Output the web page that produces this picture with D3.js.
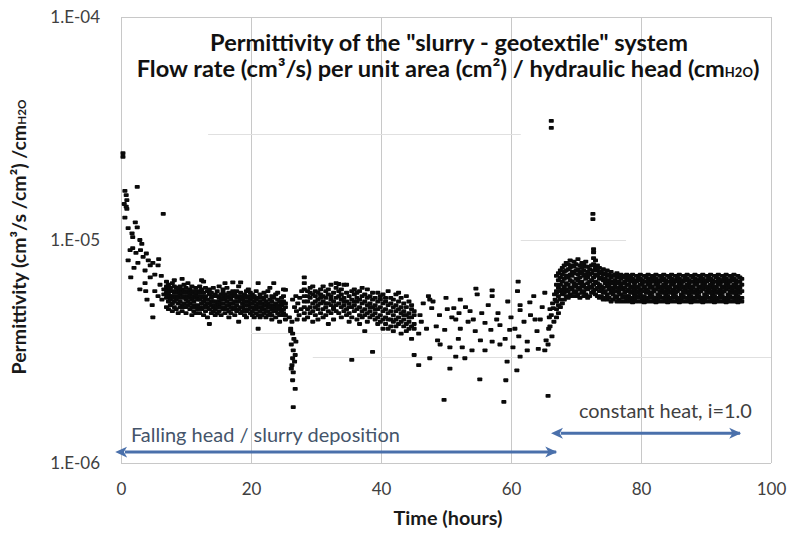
<!DOCTYPE html>
<html><head><meta charset="utf-8">
<script src="https://cdn.jsdelivr.net/npm/d3@7"></script>
<style>body{margin:0;background:#fff}svg{display:block}</style>
</head><body><svg id="c" width="794" height="535"></svg>
<script>
// ---- tick values / labels ----
const xTicks = [0, 20, 40, 60, 80, 100];
const yTicks = [1e-4, 1e-5, 1e-6];
const yTickLabels = ["1.E-04", "1.E-05", "1.E-06"];

// faint horizontal reference lines seen in the figure: [permittivity, from hour, to hour]
const refLines = [[1e-4, 0, 100], [1e-6, 0, 100], [3e-5, 13.4, 61.5], [1e-5, 61.5, 77.7], [3.83e-6, 20, 43], [3e-6, 29.5, 100]];

// ---- data: [hours, permittivity x 1e-6 (cm3/s/cm2/cmH2O)] ----
const earlyPts = [[0.3,24.5],[0.3,23.6],[0.6,16.6],[0.8,15.9],[0.9,15.1],[0.5,14.5],[0.8,14.1],[0.9,13.8],[0.6,12.6],
 [2.5,17.3],[6.5,13.1],[2.2,12.0],[2.5,11.4],[1.1,11.3],[1.7,10.7],[1.8,10.3],[2.9,10.0],[3.2,9.6],[1.8,9.2],[1.4,9.0],
 [2.3,8.75],[3.4,8.4],[4.2,8.1],[4.9,7.9],[5.8,8.2],[1.1,8.1],[2.6,7.9],[4.5,7.7],[5.7,7.7],[3.7,7.3],[1.5,6.8],[5.2,7.0],
 [4.5,6.8],[3.7,6.4],[6.0,6.3],[2.9,6.0],[3.8,5.9],[5.2,5.9],[5.7,5.6],[4.0,5.4],[4.8,5.1],[4.9,4.5],[6.3,5.4],[6.6,6.0],
 [3.0,9.0],[3.9,8.7],[2.0,7.5],[6.2,6.9],[6.6,5.7]];

const cloudCols = [
 [7.0,[5.5,6.2,5.0,5.8,6.5]],[7.3,[5.7,6.0,5.3,4.9,6.3]],[7.6,[6.1,5.4,5.9,5.1,5.6]],[7.9,[5.6,6.4,5.2,4.8,5.9]],
 [8.2,[5.8,5.3,6.2,5.0,5.5,6.6]],[8.5,[5.4,5.9,6.1,4.9,5.6]],[8.8,[6.0,5.5,5.2,5.8,4.7]],[9.1,[5.7,5.3,6.2,5.0,5.9]],
 [9.4,[5.5,6.0,5.1,5.8,6.7,4.8]],[9.7,[5.9,5.2,5.6,6.3,5.0]],[10.0,[5.4,5.8,5.0,6.1,4.7]],[10.3,[5.6,5.1,5.9,5.3,6.4]],
 [10.6,[5.2,5.7,4.9,6.0,5.5]],[10.9,[5.8,5.4,5.0,6.2,4.6]],[11.2,[5.3,5.9,5.1,5.6,4.8]],[11.5,[5.5,6.1,5.0,5.7,4.7]],
 [11.8,[5.1,5.6,5.9,4.9,5.4]],[12.1,[5.4,5.0,5.8,6.2,4.7]],[12.4,[5.6,5.2,6.0,4.9,6.6]],[12.7,[5.3,5.8,5.0,5.5,6.5,4.6]],
 [13.0,[5.1,5.6,6.1,4.8,5.4]],[13.3,[5.4,5.0,5.9,5.2,4.5]],[13.6,[5.2,5.7,4.9,6.0,4.2]],[13.9,[5.5,5.1,5.8,4.7,5.3]],
 [14.2,[5.0,5.6,5.3,6.1,4.8]],[14.5,[5.3,4.9,5.7,5.1,4.6]],[14.8,[5.6,5.2,5.0,5.9,4.7]],[15.1,[5.1,5.5,4.8,6.2,5.3]],
 [15.4,[5.4,5.0,5.7,4.6,5.2]],[15.7,[5.2,5.8,4.9,5.5,6.0]],[16.0,[5.0,5.4,6.4,4.7,5.7]],[16.3,[5.3,4.9,5.6,5.1,6.1]],
 [16.6,[5.1,5.5,4.8,5.8,4.5]],[16.9,[5.4,5.0,5.7,4.7,5.2]],[17.2,[5.2,5.6,6.45,4.9,5.9]],[17.5,[4.9,5.3,5.0,5.7,4.6]],
 [17.8,[5.1,5.5,4.8,5.9,5.3]],[18.1,[5.3,4.9,5.6,6.2,4.3]],[18.4,[5.0,5.4,6.45,4.7,5.8]],[18.7,[5.2,4.8,5.6,5.0,5.4]],
 [19.0,[4.9,5.3,5.7,4.6,5.1]],[19.3,[5.1,5.5,4.8,5.9,4.5]],[19.6,[5.3,4.9,5.6,5.1,6.0]],[19.9,[5.0,5.4,4.7,5.8,5.2]],
 [20.2,[5.2,4.8,5.5,4.6,5.7]],[20.5,[4.9,5.3,5.0,5.6,4.5]],[20.8,[5.1,4.7,5.4,5.9,4.9]],[21.1,[5.0,5.5,4.6,5.2,6.4,4.0]],
 [21.4,[4.8,5.3,5.0,5.7,4.5]],[21.7,[5.2,4.9,5.5,4.6,5.0]],[22.0,[4.9,5.4,4.7,5.8,5.1]],[22.3,[5.1,4.8,5.3,4.5,5.6]],
 [22.6,[4.8,5.2,5.0,5.9,4.6]],[22.9,[5.0,4.7,5.4,5.1,6.1]],[23.2,[4.9,5.3,4.6,5.6,4.4]],[23.5,[5.1,4.8,5.5,6.4,5.0]],
 [23.8,[4.8,5.2,4.5,5.7,4.9]],[24.1,[5.0,4.7,5.4,5.1,5.8]],[24.4,[4.9,5.3,4.6,5.0,4.3]],[24.7,[5.1,4.8,5.5,4.6,5.2]],
 [25.0,[4.9,5.3,4.7,5.6,6.0]],[25.3,[5.0,4.6,5.2,4.4,5.97]]];

const dipPts = [[25.9,4.5],[26.3,4.3],[26.1,4.0],[26.1,3.9],[26.4,3.8],[26.6,3.6],[26.9,3.5],[26.2,3.4],[26.5,3.2],
 [26.8,3.05],[26.4,2.95],[26.7,2.85],[26.3,2.75],[26.2,2.65],[26.5,2.55],[26.4,2.35],[26.8,2.15],[26.5,1.78],
 [26.9,5.6],[27.2,5.2],[27.0,4.8],[27.5,5.5],[27.4,4.6],[26.7,5.0],[27.8,5.9],[27.7,4.9],[26.4,5.4],[27.1,4.4]];

const midCols = [
 [28.2,[6.8,6.4,6.0,5.6,5.3,5.0,4.7,4.4]],[28.7,[5.9,5.3,4.9,5.6,4.5]],[29.1,[5.5,6.1,5.0,4.7,5.8]],
 [29.5,[5.2,5.7,4.8,6.2,4.3]],[29.9,[5.6,5.0,5.9,4.6,5.3]],[30.3,[5.4,5.8,4.9,5.1,4.4]],[30.7,[5.7,5.2,6.0,4.7,5.5]],
 [31.1,[5.3,4.9,5.6,6.2,4.5]],[31.5,[5.5,5.0,5.9,4.6,5.2]],[31.9,[5.2,5.7,4.8,6.0,4.2]],[32.3,[5.6,5.1,5.4,4.7,6.3]],
 [32.7,[5.3,4.9,5.8,5.0,4.4]],[33.1,[5.5,5.1,6.1,4.8,6.4]],[33.5,[5.2,5.6,4.7,5.9,6.35]],[33.9,[5.4,5.0,5.7,4.5,6.0]],
 [34.3,[5.1,5.5,4.8,6.3,5.3]],[34.7,[5.3,4.9,5.8,4.6,6.3]],[35.1,[5.0,5.6,4.7,5.2,4.3]],[35.5,[5.4,5.0,5.9,4.5,2.9]],
 [35.9,[5.1,5.7,4.8,5.3,6.0]],[36.3,[5.3,4.9,5.5,4.4,5.8]],[36.7,[5.0,5.4,4.6,5.9,4.2]],[37.1,[5.2,4.8,5.6,6.1,4.5]],
 [37.5,[4.9,5.3,4.6,5.7,3.9]],[37.9,[5.1,4.7,5.5,6.0,4.3]],[38.3,[4.8,5.2,4.5,5.6,5.0]],[38.7,[5.0,4.6,5.4,3.15,5.8]],
 [39.1,[4.7,5.1,4.4,5.5,4.9]],[39.5,[4.9,5.3,4.5,5.8,4.2]],[39.9,[4.6,5.0,5.4,4.3,5.6]],[40.3,[4.8,4.4,5.2,5.7,4.0]],
 [40.7,[4.5,4.9,5.3,4.2,5.5]],[41.1,[4.7,5.1,4.4,5.9,4.0]],[41.5,[4.4,4.8,5.2,4.1,5.5]],[41.9,[4.6,5.0,4.3,5.4,3.9]],
 [42.3,[4.8,4.4,5.1,5.7,4.1]],[42.7,[4.5,4.9,4.2,5.3,5.8]],[43.1,[4.7,4.3,5.0,3.8,5.5]],[43.5,[4.4,4.8,4.1,5.2,4.6]],
 [43.9,[4.6,4.2,5.0,5.6,3.9]],[44.3,[4.3,4.7,4.0,5.3,4.5]],[44.7,[4.5,4.1,4.9,3.6,5.1]],[45.1,[4.2,4.6,4.0,3.05,4.8]]];

const latePts = [[54.6,6.05],[54.8,5.7],[57.1,5.95],[57.1,5.6],[52.2,5.4],[50.2,4.9],[51.2,4.95],[53.7,4.8],[47.8,4.95],
 [50.9,4.5],[53.4,4.3],[56.0,4.25],[58.3,4.15],[59.8,3.95],[61.2,3.7],[62.5,3.5],[48.5,4.1],[49.8,3.95],[52.2,4.0],
 [54.5,3.9],[56.9,3.95],[59.1,3.6],[58.3,3.4],[60.3,3.3],[49.1,3.4],[50.6,3.3],[52.5,3.3],[54.0,3.2],[56.0,3.2],
 [62.5,3.2],[64.2,3.25],[51.5,3.0],[52.9,2.95],[55.2,2.37],[59.2,2.35],[59.4,2.85],[61.4,3.0],[60.9,2.6],[50.6,2.65],
 [49.7,1.92],[58.9,1.88],[65.7,2.0],[61.4,4.85],[62.9,5.25],[61.4,5.1],[63.7,4.4],[61.1,6.5],[61.0,5.9],[64.5,4.4],
 [65.4,3.55],[48.7,3.55],[51.9,3.6],[57.1,3.5],[55.3,3.55],[46.0,4.6],[46.5,5.2],[47.0,4.0],[47.3,5.6],[45.8,3.8],
 [48.0,5.3],[49.0,4.6],[50.0,5.5],[51.5,4.4],[53.0,5.0],[55.5,4.7],[56.5,5.1],[58.0,4.7],[59.5,5.3],[60.0,4.5],
 [62.0,4.3],[63.5,5.6],[64.8,5.0],[65.2,5.8],[64.0,3.9],[47.5,2.95],[45.8,2.75],[47.5,5.4],[46.2,4.3],[52.0,4.7],
 [54.2,4.4],[57.8,4.4],[60.6,4.0],[63.0,4.6]];

const risePts = [[65.2,3.2],[65.7,3.4],[65.8,4.0],[66.2,4.6],[66.5,4.95],[66.8,5.4],[67.0,5.9],[66.6,4.3],[66.3,3.7],
 [65.9,4.5],[66.7,5.7],[66.4,5.2],[66.0,4.9],[66.0,4.1]];

const outlierPts = [[66.2,34.2],[66.2,31.8],[72.6,13.1],[72.6,12.4]];

const constantHeadCols = [
 [67.0,[4.5,4.9,5.3,5.8,6.3,6.9]],[67.3,[4.7,5.1,5.6,6.1,6.6,7.1]],[67.6,[5.0,5.4,5.9,6.3,6.8,7.3]],
 [67.9,[5.2,5.7,6.0,6.5,7.0,7.5]],[68.2,[5.4,5.8,6.2,6.7,7.2,7.7]],[68.5,[5.6,6.0,6.4,6.9,7.3,7.9]],
 [68.8,[5.5,5.9,6.3,6.8,7.4,7.8]],[69.1,[5.7,6.1,6.6,7.0,7.5,8.1]],[69.4,[5.6,6.0,6.5,6.9,7.2,7.7]],
 [69.7,[5.8,6.2,6.4,7.1,7.6,8.0]],[70.0,[5.6,5.9,6.3,6.7,7.3,7.8]],[70.3,[5.7,6.1,6.6,7.0,7.4,8.2]],
 [70.6,[5.5,6.0,6.4,6.8,7.2,7.7]],[70.9,[5.8,6.2,6.5,7.1,7.5,7.9]],[71.2,[5.6,5.9,6.3,6.9,7.3,7.8]],
 [71.5,[5.7,6.1,6.7,7.0,7.6,8.0]],[71.8,[5.5,6.0,6.4,6.8,7.2,7.6]],[72.1,[5.6,6.2,6.5,7.0,7.4]],
 [72.4,[5.8,6.1,6.6,7.1,7.7]],[72.7,[5.9,6.3,6.8,7.3,7.8,8.3,8.8,9.1]],[73.0,[5.7,6.0,6.5,7.0,7.5,8.1]],
 [73.3,[5.6,6.1,6.4,6.9,7.3,7.7]],[73.6,[5.5,5.9,6.3,6.7,7.1,7.5]],[73.9,[5.6,6.0,6.2,6.8,7.2]],
 [74.2,[5.4,5.8,6.1,6.6,7.0,7.4]],[74.5,[5.5,5.9,6.4,6.7,7.1]],[74.8,[5.4,5.7,6.2,6.5,6.9,7.3]],
 [75.1,[5.5,6.0,6.3,6.6,7.0]],[75.4,[5.3,5.8,6.1,6.5,6.8,7.2]],[75.7,[5.4,5.7,6.0,6.4,6.9]],
 [76.0,[5.5,5.9,6.2,6.6,7.0]],[76.3,[5.3,5.6,6.1,6.4,6.8,7.1]],[76.6,[5.4,5.8,6.0,6.5,6.9]],
 [76.9,[5.3,5.7,6.2,6.3,6.7,7.0]],[77.2,[5.5,5.6,6.0,6.4,6.8]],[77.5,[5.3,5.8,6.1,6.5,6.9]],
 [77.8,[5.4,5.6,5.9,6.3,6.7,7.0]],[78.1,[5.3,5.6,6.0,6.3,6.6,6.9]],[78.4,[5.4,5.8,6.1,6.5,6.8]],
 [78.7,[5.25,5.5,5.9,6.2,6.7,7.0]],[79.0,[5.4,5.7,6.0,6.4,6.6]],[79.3,[5.3,5.6,5.8,6.2,6.5,6.9]],
 [79.6,[5.5,5.9,6.1,6.6,6.8]],[79.9,[5.3,5.7,6.0,6.3,6.7,7.0]],[80.2,[5.4,5.5,5.9,6.4,6.6]],
 [80.5,[5.25,5.6,6.1,6.2,6.5,6.9]],[80.8,[5.4,5.8,6.0,6.5,6.8]],[81.1,[5.3,5.5,5.9,6.3,6.6,7.0]],
 [81.4,[5.5,5.7,6.1,6.4,6.7]],[81.7,[5.3,5.6,5.8,6.2,6.6,6.9]],[82.0,[5.4,5.9,6.0,6.5,6.8]],
 [82.3,[5.25,5.5,6.0,6.3,6.7,7.0]],[82.6,[5.4,5.7,6.1,6.4,6.6]],[82.9,[5.3,5.6,5.9,6.2,6.5,6.9]],
 [83.2,[5.5,5.8,6.0,6.6,6.8]],[83.5,[5.3,5.5,6.1,6.3,6.7,7.0]],[83.8,[5.4,5.7,5.9,6.4,6.6]],
 [84.1,[5.25,5.6,6.0,6.2,6.5,6.9]],[84.4,[5.4,5.8,6.1,6.5,6.8]],[84.7,[5.3,5.5,5.9,6.3,6.7,7.0]],
 [85.0,[5.5,5.7,6.0,6.4,6.6]],[85.3,[5.3,5.6,5.8,6.2,6.6,6.9]],[85.6,[5.4,5.9,6.1,6.5,6.8]],
 [85.9,[5.25,5.5,6.0,6.3,6.7,7.0]],[86.2,[5.4,5.7,6.1,6.4,6.6]],[86.5,[5.3,5.6,5.9,6.2,6.5,6.9]],
 [86.8,[5.5,5.8,6.0,6.6,6.8]],[87.1,[5.3,5.5,6.1,6.3,6.7,7.0]],[87.4,[5.4,5.7,5.9,6.4,6.6]],
 [87.7,[5.25,5.6,6.0,6.2,6.5,6.9]],[88.0,[5.4,5.8,6.1,6.5,6.8]],[88.3,[5.3,5.5,5.9,6.3,6.7,7.0]],
 [88.6,[5.5,5.7,6.0,6.4,6.6]],[88.9,[5.3,5.6,5.8,6.2,6.6,6.9]],[89.2,[5.4,5.9,6.1,6.5,6.8]],
 [89.5,[5.25,5.5,6.0,6.3,6.7,7.0]],[89.8,[5.4,5.7,6.1,6.4,6.6]],[90.1,[5.3,5.6,5.9,6.2,6.5,6.9]],
 [90.4,[5.5,5.8,6.0,6.6,6.8]],[90.7,[5.3,5.5,6.1,6.3,6.7,7.0]],[91.0,[5.4,5.7,5.9,6.4,6.6]],
 [91.3,[5.25,5.6,6.0,6.2,6.5,6.9]],[91.6,[5.4,5.8,6.1,6.5,6.8]],[91.9,[5.3,5.5,5.9,6.3,6.7,7.0]],
 [92.2,[5.5,5.7,6.0,6.4,6.6]],[92.5,[5.3,5.6,5.8,6.2,6.6,6.9]],[92.8,[5.4,5.9,6.1,6.5,6.8]],
 [93.1,[5.25,5.5,6.0,6.3,6.7,7.0]],[93.4,[5.4,5.7,6.1,6.4,6.6]],[93.7,[5.3,5.6,5.9,6.2,6.5,6.9]],
 [94.0,[5.5,5.8,6.0,6.6,6.8]],[94.3,[5.3,5.5,6.1,6.3,6.7,7.0]],[94.6,[5.4,5.7,5.9,6.4,6.6]],
 [94.9,[5.25,5.6,6.0,6.2,6.5,6.9]],[95.2,[5.4,5.8,6.1,6.5,6.8]],[95.5,[5.3,5.5,5.9,6.3,6.7]]];

// phase annotations: [start hour, end hour, level (permittivity)]
const fallingHeadSpan = [0.15, 67.4, 1.12e-6];
const constantHeadSpan = [67.2, 95.7, 1.36e-6];

// ---- build points ----
const cols2pts = cols => cols.flatMap(([t, vs]) => vs.map(v => [t, v]));
const allPts = [].concat(earlyPts, cols2pts(cloudCols), dipPts, cols2pts(midCols), latePts, risePts,
  outlierPts, cols2pts(constantHeadCols)).map(([t, v]) => ({t, p: v * 1e-6}));

const svg = d3.select('#c');
const FONT = 'Lato, "Open Sans", sans-serif';
const x = d3.scaleLinear().domain([0, 100]).range([121, 771]);
const y = d3.scaleLog().domain([1e-6, 1e-4]).range([463, 17]);

// vertical gridlines
const gGrid = svg.append('g').attr('transform', `translate(0,${y(1e-4)})`)
  .call(d3.axisBottom(x).tickValues(xTicks).tickSize(y(1e-6) - y(1e-4)).tickFormat(''));
gGrid.select('.domain').remove();
gGrid.selectAll('line').attr('stroke', '#c8c8c8').attr('stroke-width', 1);

// horizontal reference lines
svg.append('g').selectAll('line').data(refLines).join('line')
  .attr('x1', d => x(d[1])).attr('x2', d => x(d[2]))
  .attr('y1', d => Math.round(y(d[0])) + 0.5).attr('y2', d => Math.round(y(d[0])) + 0.5)
  .attr('stroke', (d, i) => i < 2 ? '#c8c8c8' : '#e0e0e0').attr('stroke-width', 1);

// y tick labels
const yAx = svg.append('g').attr('transform', `translate(${x(0)},0)`)
  .call(d3.axisLeft(y).tickValues(yTicks).tickSize(0).tickPadding(21)
    .tickFormat((d, i) => yTickLabels[i]));
yAx.select('.domain').remove();
yAx.selectAll('text').attr('font-family', FONT).attr('font-size', 17).attr('fill', '#404040');

// x tick labels
const xAx = svg.append('g').attr('transform', `translate(0,${y(1e-6)})`)
  .call(d3.axisBottom(x).tickValues(xTicks).tickSize(0).tickPadding(20).tickFormat(d3.format('d')));
xAx.select('.domain').remove();
xAx.selectAll('text').attr('font-family', FONT).attr('font-size', 17).attr('fill', '#404040');

// points
svg.append('g').selectAll('rect').data(allPts).join('rect')
  .attr('x', d => x(d.t) - 2.5).attr('y', d => y(d.p) - 1.9)
  .attr('width', 5).attr('height', 3.8).attr('rx', 0.8).attr('fill', '#0a0a0a');

// fit helper
function fit(sel, w) {
  const l = sel.node().getComputedTextLength();
  const fs = parseFloat(sel.attr('font-size'));
  sel.attr('font-size', fs * w / l);
  return sel;
}

// title
const t1 = svg.append('text').attr('x', 449).attr('y', 51).attr('text-anchor', 'middle')
  .attr('font-family', FONT).attr('font-weight', 'bold').attr('font-size', 18).attr('fill', '#111')
  .text('Permittivity of the "slurry - geotextile" system');
fit(t1, 478);
const t2 = svg.append('text').attr('x', 448).attr('y', 77).attr('text-anchor', 'middle')
  .attr('font-family', FONT).attr('font-weight', 'bold').attr('font-size', 18).attr('fill', '#111');
t2.append('tspan').text('Flow rate (cm³/s) per unit area (cm²) / hydraulic head (cm');
t2.append('tspan').attr('font-size', '0.55em').text('H2O');
t2.append('tspan').text(')');
fit(t2, 623);

// axis titles
const xt = svg.append('text').attr('x', 448).attr('y', 525).attr('text-anchor', 'middle')
  .attr('font-family', FONT).attr('font-weight', 'bold').attr('font-size', 16).attr('fill', '#1a1a1a')
  .text('Time (hours)');
fit(xt, 109);
const yt = svg.append('text').attr('transform', 'translate(26,237) rotate(-90)').attr('text-anchor', 'middle')
  .attr('font-family', FONT).attr('font-weight', 'bold').attr('font-size', 16).attr('fill', '#1a1a1a');
yt.append('tspan').text('Permittivity (cm³/s /cm²) /cm');
yt.append('tspan').attr('font-size', '0.6em').text('H2O');
fit(yt, 275);

// arrows
const defs = svg.append('defs');
['s', 'e'].forEach(k => {
  defs.append('marker').attr('id', 'arr' + k).attr('viewBox', '0 0 12 12').attr('refX', k === 'e' ? 10 : 2).attr('refY', 6)
    .attr('markerWidth', 13).attr('markerHeight', 13).attr('markerUnits', 'userSpaceOnUse').attr('orient', 'auto-start-reverse')
    .append('path').attr('d', 'M0,1 L11,6 L0,11 L3,6 Z').attr('fill', '#4a70ab');
});
function arrow(span) {
  svg.append('line').attr('x1', x(span[0]) + 3).attr('x2', x(span[1]) - 3)
    .attr('y1', y(span[2])).attr('y2', y(span[2]))
    .attr('stroke', '#4a70ab').attr('stroke-width', 3)
    .attr('marker-start', 'url(#arrs)').attr('marker-end', 'url(#arre)');
}
arrow(fallingHeadSpan);
arrow(constantHeadSpan);

const a1 = svg.append('text').attr('x', x(fallingHeadSpan[0]) + 9).attr('y', y(fallingHeadSpan[2]) - 10)
  .attr('font-family', FONT).attr('font-size', 17).attr('fill', '#44546a').text('Falling head / slurry deposition');
fit(a1, 269);
const a2 = svg.append('text').attr('x', 579).attr('y', y(constantHeadSpan[2]) - 15)
  .attr('font-family', FONT).attr('font-size', 17).attr('fill', '#404040').text('constant heat, i=1.0');
fit(a2, 173);
</script>
</body></html>
